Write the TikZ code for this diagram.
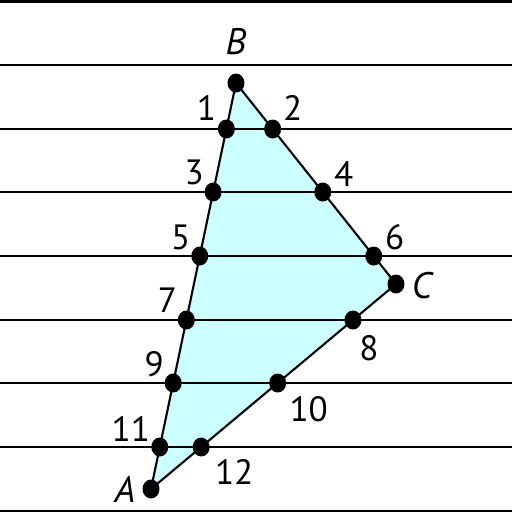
\documentclass[tikz,border=0pt]{standalone}
\usepackage{fontspec}
\setmainfont{PT Sans}
\usetikzlibrary{calc, shapes.geometric}
\definecolor{triFill}{RGB}{204,255,255}

\begin{document}
\begin{tikzpicture}[
    x=0.02cm, y=-0.02cm,
    rule/.style={line width=1.05pt},
    border/.style={line width=1.7pt},
    edge/.style={line width=1.2pt, line join=round},
    dot/.style={ellipse, fill=black, inner sep=0pt, minimum width=0.34cm, minimum height=0.38cm},
    num/.style={font=\fontsize{20}{22}\selectfont, inner sep=0pt},
    vname/.style={font=\fontsize{21}{24}\selectfont\itshape, inner sep=0pt}
  ]
  \useasboundingbox (0,0) rectangle (512,512);

  % triangle corners
  \coordinate (A) at (151,489);
  \coordinate (B) at (236,83);
  \coordinate (C) at (396,284);
  \fill[triFill] (A) -- (B) -- (C) -- cycle;

  % ruled lines
  \draw[border] (0,1) -- (512,1);
  \draw[border] (0,511) -- (512,511);
  \foreach \y [count=\k] in {65,129,192,256,320,383,447}
    \draw[rule] (0,\y) coordinate (w\k) -- (512,\y) coordinate (e\k);

  \draw[edge] (A) -- (B) -- (C) -- cycle;

  % vertices
  \node[dot] (dA) at (A) {};
  \node[dot] (dB) at (B) {};
  \node[dot] (dC) at (C) {};
  \node[vname] (lA) at ($(A)+(-26,0)$) {A};
  \node[vname] (lB) at ($(B)+(0,-41)$) {B};
  \node[vname] (lC) at ($(C)+(26,2)$) {C};

  % points on AB
  \foreach \k/\n/\dx/\dy in {2/1/-20/-21, 3/3/-19/-20, 4/5/-19/-19,
                             5/7/-19/-20, 6/9/-19/-19, 7/11/-29/-18} {
    \node[dot] (d\n) at (intersection cs: first line={(A)--(B)}, second line={(w\k)--(e\k)}) {};
    \node[num] (n\n) at ($(d\n)+(\dx,\dy)$) {\n};
  }
  % points on BC and CA
  \foreach \k/\n/\p/\q/\dx/\dy in {2/2/B/C/20/-21, 3/4/B/C/21/-18, 4/6/B/C/21/-19,
                                   5/8/C/A/16/28, 6/10/C/A/31/26, 7/12/C/A/33/25} {
    \node[dot] (d\n) at (intersection cs: first line={(\p)--(\q)}, second line={(w\k)--(e\k)}) {};
    \node[num] (n\n) at ($(d\n)+(\dx,\dy)$) {\n};
  }
\end{tikzpicture}
\end{document}
